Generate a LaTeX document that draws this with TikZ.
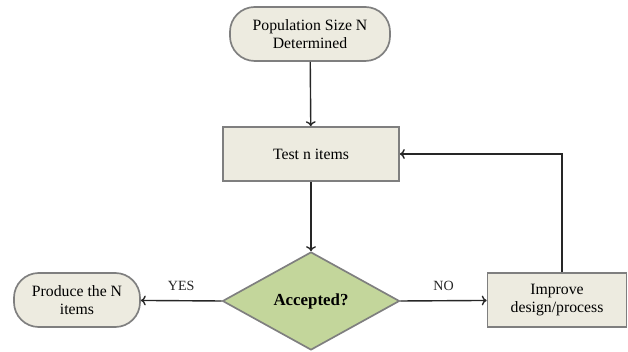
\documentclass[tikz,border=0pt]{standalone}
\usepackage{fontspec}
\setmainfont{Liberation Serif}
\usetikzlibrary{shapes.geometric,arrows.meta}
\definecolor{boxfill}{HTML}{EDEBE0}
\definecolor{boxline}{HTML}{7F7F7F}
\definecolor{decfill}{HTML}{C3D69B}
\definecolor{arrowc}{HTML}{262626}
\begin{document}
\begin{tikzpicture}[x=0.025cm,y=-0.025cm,
  every node/.style={font=\rmfamily\fontsize{11.2}{13}\selectfont},
  termbox/.style={draw=boxline,line width=1.2pt,fill=boxfill,rounded corners=0.62cm,minimum height=1.35cm,align=center,inner sep=1pt},
  procbox/.style={draw=boxline,line width=1.2pt,fill=boxfill,minimum height=1.35cm,align=center,inner sep=1pt},
  decbox/.style={diamond,draw=boxline,line width=1.2pt,fill=decfill,minimum width=4.425cm,minimum height=2.45cm,inner sep=0pt,font=\rmfamily\fontsize{12}{14}\selectfont\bfseries},
  flow/.style={-{To[length=3.5pt,width=7pt]},line width=1pt,arrowc},
  lbl/.style={font=\rmfamily\fontsize{10}{12}\selectfont,above=3pt}]
\useasboundingbox (0,0) rectangle (628,352);
% nodes
\node[termbox,minimum width=4cm] (pop) at (310,34) {Population Size N\\Determined};
\node[procbox,minimum width=4.4cm] (test) at (311,154) {Test n items};
\node[decbox] (acc) at (311,301) {Accepted?};
\node[termbox,minimum width=3.15cm] (prod) at (77,300) {Produce the N\\items};
\node[procbox,minimum width=3.475cm] (impr) at (557,300) {Improve\\design/process};
% connectors
\draw[flow] (pop) -- (test);
\draw[flow] (test) -- (acc);
\draw[flow] (acc.west) -- node[lbl] {YES} (prod);
\draw[flow] (acc.east) -- node[lbl] {NO} (impr);
% feedback
\draw[flow] ([xshift=0.125cm]impr.north) |- (test.east);
\end{tikzpicture}
\end{document}
